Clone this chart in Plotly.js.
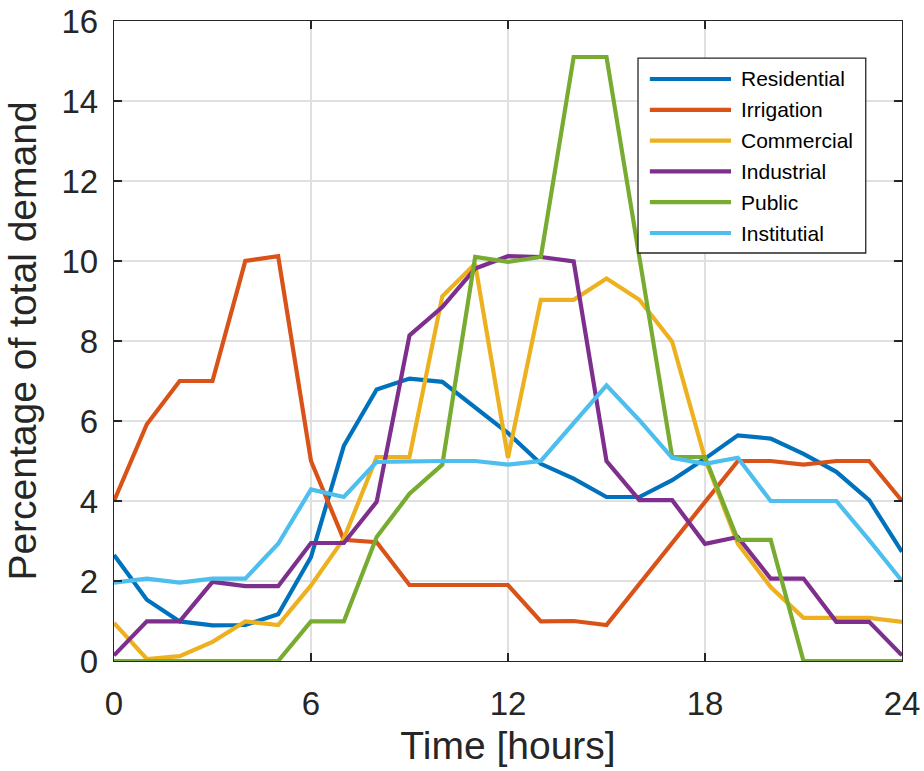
<!DOCTYPE html>
<html>
<head>
<meta charset="utf-8">
<script src="https://cdn.plot.ly/plotly-3.0.1.min.js"></script>
<style>html,body{margin:0;padding:0;background:#fff;}#chart{width:924px;height:771px;}</style>
</head>
<body>
<div id="chart"></div>
<script>
const hours = [0,1,2,3,4,5,6,7,8,9,10,11,12,13,14,15,16,17,18,19,20,21,22,23,24];
const residential = [2.65,1.53,0.99,0.89,0.9,1.17,2.6,5.38,6.79,7.06,6.98,6.35,5.7,4.93,4.56,4.1,4.1,4.52,5.06,5.64,5.56,5.18,4.73,4.02,2.73];
const irrigation  = [4.0,5.92,7.0,7.0,10.0,10.12,5.0,3.03,2.97,1.9,1.9,1.9,1.9,0.99,1.0,0.9,1.93,2.93,4.0,5.0,5.0,4.91,5.0,5.0,4.0];
const commercial  = [0.95,0.05,0.12,0.48,0.99,0.9,1.89,3.06,5.1,5.1,9.12,9.93,5.08,9.03,9.03,9.56,9.03,7.98,5.06,2.93,1.85,1.08,1.08,1.08,0.98];
const industrial  = [0.14,0.99,0.99,1.98,1.87,1.87,2.95,2.95,3.98,8.14,8.85,9.81,10.12,10.1,9.99,5.0,4.02,4.02,2.93,3.1,2.06,2.06,0.98,0.98,0.14];
const publicUse   = [0,0,0,0,0,0,0.99,0.99,3.1,4.18,4.91,10.1,9.98,10.1,15.1,15.1,10.1,5.1,5.1,3.03,3.03,0,0,0,0];
const institutial = [1.96,2.06,1.96,2.06,2.06,2.93,4.29,4.1,4.98,5.0,5.0,5.0,4.91,5.0,5.93,6.89,6.02,5.08,4.93,5.08,4.0,4.0,4.0,3.02,2.0];

const seriesNames = ["Residential","Irrigation","Commercial","Industrial","Public","Institutial"];
const seriesValues = [residential, irrigation, commercial, industrial, publicUse, institutial];
const seriesColors = ["#0072BD","#D95319","#EDB120","#7E2F8E","#77AC30","#4DBEEE"];
const xTicks = [0,6,12,18,24];
const yTicks = [0,2,4,6,8,10,12,14,16];

const FONT = "'Liberation Sans', Arial, Helvetica, sans-serif";
const INK = "#262626";

const traces = seriesNames.map((n,i)=>({
  x: hours, y: seriesValues[i], name: n, type: 'scatter', mode: 'lines',
  line: {color: seriesColors[i], width: 4.2, shape: 'linear'},
  showlegend: false, hoverinfo: 'x+y+name'
}));

// custom MATLAB-style legend
const shapes = [];
const annotations = [];
const lx0 = 0.665, lx1 = 0.954, ly0 = 0.6375, ly1 = 0.942;
shapes.push({type:'rect', xref:'paper', yref:'paper', x0:lx0, x1:lx1, y0:ly0, y1:ly1,
  line:{color:INK, width:1.3}, fillcolor:'#ffffff', layer:'above'});
const rowTopPx = 79, rowStepPx = 30.8;
seriesNames.forEach((n,i)=>{
  const py = rowTopPx + i*rowStepPx;
  const yy = (661 - py)/640;
  shapes.push({type:'line', xref:'paper', yref:'paper', x0:0.680, x1:0.783, y0:yy, y1:yy,
    line:{color:seriesColors[i], width:4.2}, layer:'above'});
  annotations.push({xref:'paper', yref:'paper', x:0.793, y:yy, xanchor:'left', yanchor:'middle',
    text:n, showarrow:false, font:{family:FONT, size:21, color:'#000'}});
});

const layout = {
  width: 924, height: 771,
  margin: {l:114, r:22, t:21, b:110, pad:0},
  paper_bgcolor:'#ffffff', plot_bgcolor:'#ffffff',
  font: {family: FONT, color: INK},
  xaxis: {
    range:[0,24], tickvals:xTicks, ticktext:xTicks.map(String),
    ticks:'inside', ticklen:8, tickwidth:1.3, tickcolor:INK,
    showline:true, linecolor:INK, linewidth:1.3, mirror:'ticks',
    showgrid:true, gridcolor:'#e0e0e0', gridwidth:1.3, zeroline:false,
    tickfont:{size:33, color:INK, family:FONT}, ticklabelstandoff:13,
    title:{text:'Time [hours]', font:{size:39, color:INK, family:FONT}, standoff:10}
  },
  yaxis: {
    range:[0,16], tickvals:yTicks, ticktext:yTicks.map(String),
    ticks:'inside', ticklen:8, tickwidth:1.3, tickcolor:INK,
    showline:true, linecolor:INK, linewidth:1.3, mirror:'ticks',
    showgrid:true, gridcolor:'#e0e0e0', gridwidth:1.3, zeroline:false,
    tickfont:{size:33, color:INK, family:FONT}, ticklabelstandoff:8,
    title:{text:'Percentage of total demand', font:{size:39, color:INK, family:FONT}, standoff:12}
  },
  shapes: shapes,
  annotations: annotations,
  showlegend:false
};

Plotly.newPlot('chart', traces, layout, {displayModeBar:false, staticPlot:true});
</script>
</body>
</html>
